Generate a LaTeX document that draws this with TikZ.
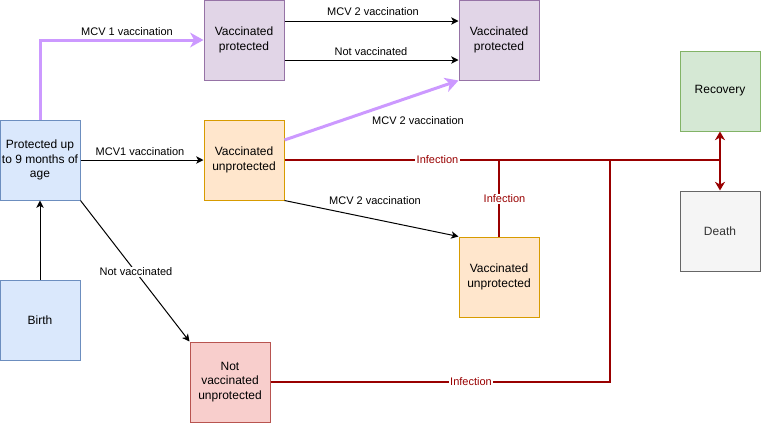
\documentclass[tikz,border=0pt]{standalone}
\usepackage{fontspec}
\setmainfont{Liberation Sans}
\usetikzlibrary{arrows.meta}
\definecolor{bluef}{HTML}{DAE8FC}\definecolor{blues}{HTML}{6C8EBF}
\definecolor{purf}{HTML}{E1D5E7}\definecolor{purs}{HTML}{9673A6}
\definecolor{oraf}{HTML}{FFE6CC}\definecolor{oras}{HTML}{D79B00}
\definecolor{grnf}{HTML}{D5E8D4}\definecolor{grns}{HTML}{82B366}
\definecolor{gryf}{HTML}{F5F5F5}\definecolor{grys}{HTML}{666666}\definecolor{gryt}{HTML}{333333}
\definecolor{redf}{HTML}{F8CECC}\definecolor{reds}{HTML}{B85450}
\definecolor{darkred}{HTML}{990000}
\definecolor{lilac}{HTML}{CC99FF}
\begin{document}
\begin{tikzpicture}[x=0.75pt,y=-0.75pt,
  box/.style={draw, line width=0.75pt, minimum width=60pt, minimum height=60pt,
    inner sep=0pt, align=center, font=\fontsize{9}{10.9}\selectfont},
  bluebox/.style={box, fill=bluef, draw=blues},
  purbox/.style={box, fill=purf, draw=purs},
  orabox/.style={box, fill=oraf, draw=oras},
  grnbox/.style={box, fill=grnf, draw=grns},
  grybox/.style={box, fill=gryf, draw=grys, text=gryt},
  redbox/.style={box, fill=redf, draw=reds},
  blackarrow/.style={draw=black, line width=0.75pt, -{Stealth[length=5.5pt,width=5.5pt,inset=1.5pt]}},
  purarrow/.style={draw=lilac, line width=2.25pt, -{Stealth[length=10pt,width=11pt,inset=3pt]}},
  redline/.style={draw=darkred, line width=1.5pt},
  redarrow/.style={redline, -{Stealth[length=6.5pt,width=7.5pt,inset=2pt]}},
  lbl/.style={inner sep=1pt, font=\fontsize{8.25}{10}\selectfont},
  redlbl/.style={lbl, fill=white, text=darkred}
]
\useasboundingbox (0,0) rectangle (761,422);

% boxes
\node[bluebox] (prot) at (40,160) {Protected up\\to 9 months of\\age};
\node[bluebox] (birth) at (40,320) {Birth};
\node[purbox] (vp1) at (244,40) {Vaccinated\\protected};
\node[orabox] (vu1) at (244,160) {Vaccinated\\unprotected};
\node[purbox] (vp2) at (499,40) {Vaccinated\\protected};
\node[grnbox] (rec) at (720,91) {Recovery};
\node[grybox] (death) at (720,231) {Death};
\node[orabox] (vu2) at (499,277) {Vaccinated\\unprotected};
\node[redbox] (nvu) at (230,382) {Not\\vaccinated\\unprotected};

% black connectors
\draw[blackarrow] (birth.north) -- (prot.south);
\draw[blackarrow] (prot.east) -- (vu1.west);
\draw[blackarrow] (prot.south east) -- (nvu.north west);
\draw[blackarrow] ([yshift=14.25pt]vp1.east) -- ([yshift=14.25pt]vp2.west);
\draw[blackarrow] ([yshift=-15pt]vp1.east) -- ([yshift=-15pt]vp2.west);
\draw[blackarrow] (vu1.south east) -- (vu2.north west);

% purple connectors
\draw[purarrow] (prot.north) |- (vp1.west);
\draw[purarrow] ([yshift=15pt]vu1.east) -- (vp2.south west);

% red infection lines
\coordinate (j) at (720,160);
\coordinate (k) at (610,160);
\draw[redline] (vu1.east) -- (j);
\draw[redline] (vu2.north) -- (vu2.north |- j);
\draw[redline] (nvu.east) -| (k);
\draw[redarrow] (j) -- (rec.south);
\draw[redarrow] (j) -- (death.north);

% labels
\node[lbl] (l1) at (127,32) {MCV 1 vaccination};
\node[lbl] (l2) at (140,152) {MCV1 vaccination};
\node[lbl, fill=white] (l3) at (136,272) {Not vaccinated};
\node[lbl] (l4) at (373,12) {MCV 2 vaccination};
\node[lbl] (l5) at (371,52) {Not vaccinated};
\node[lbl] (l6) at (418,121) {MCV 2 vaccination};
\node[lbl] (l7) at (375,201) {MCV 2 vaccination};
\node[redlbl] (l8) at (437.5,160) {Infection};
\node[redlbl] (l9) at (504.5,199) {Infection};
\node[redlbl] (l10) at (471,382) {Infection};
\end{tikzpicture}
\end{document}
